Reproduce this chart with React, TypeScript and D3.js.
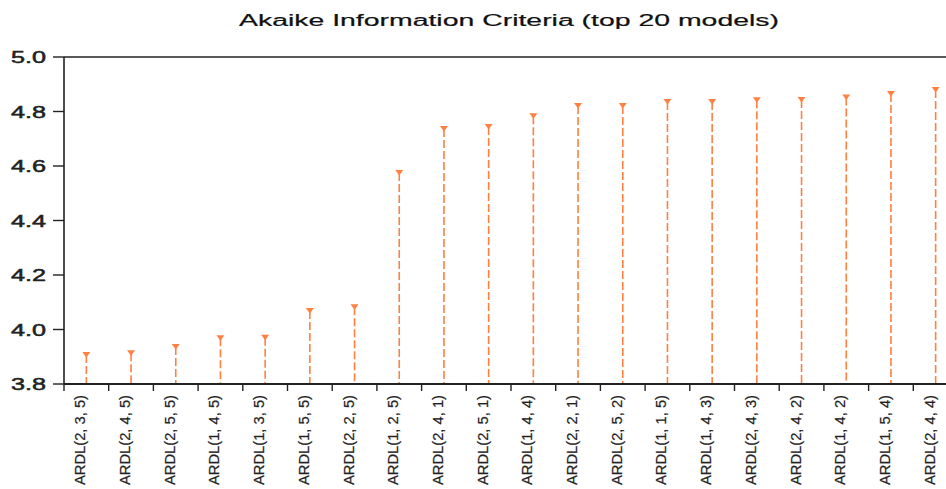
import React from "react";
import * as d3 from "d3";

const models = [
  "ARDL(2, 3, 5)", "ARDL(2, 4, 5)", "ARDL(2, 5, 5)", "ARDL(1, 4, 5)", "ARDL(1, 3, 5)",
  "ARDL(1, 5, 5)", "ARDL(2, 2, 5)", "ARDL(1, 2, 5)", "ARDL(2, 4, 1)", "ARDL(2, 5, 1)",
  "ARDL(1, 4, 4)", "ARDL(2, 2, 1)", "ARDL(2, 5, 2)", "ARDL(1, 1, 5)", "ARDL(1, 4, 3)",
  "ARDL(2, 4, 3)", "ARDL(2, 4, 2)", "ARDL(1, 4, 2)", "ARDL(1, 5, 4)", "ARDL(2, 4, 4)",
];
const aicValues = [
  3.906, 3.913, 3.936, 3.968, 3.97, 4.068, 4.082, 4.574, 4.736, 4.743,
  4.783, 4.82, 4.82, 4.835, 4.835, 4.841, 4.842, 4.851, 4.864, 4.879,
];
const yTicks = [3.8, 4.0, 4.2, 4.4, 4.6, 4.8, 5.0];

const W = 946;
const H = 489;
const left = 64;
const right = 958;
const top = 57;
const bottom = 384;
const orange = "#ff8040";

export default function App() {
  const x = d3.scaleBand<string>().domain(models).range([left, right]).padding(0);
  const y = d3.scaleLinear().domain([3.8, 5.0]).range([bottom, top]);
  const bw = x.bandwidth();
  const tickXs = models.map((m) => x(m)!).concat([right]);

  return (
    <svg
      width={W}
      height={H}
      style={{ position: "absolute", left: 0, top: 0, background: "#fff" }}
      fontFamily="'Liberation Sans', Arial, sans-serif"
    >
      <text
        x={509}
        y={26}
        textAnchor="middle"
        fontSize={16}
        textLength={540}
        lengthAdjust="spacingAndGlyphs"
        fill="#111"
        stroke="#111"
        strokeWidth={0.2}
      >
        Akaike Information Criteria (top 20 models)
      </text>

      {/* stems and markers */}
      {models.map((m, i) => {
        const cx = x(m)! + bw / 2;
        const cy = y(aicValues[i]);
        return (
          <g key={m}>
            <line
              x1={cx}
              x2={cx}
              y1={cy}
              y2={bottom}
              stroke={orange}
              strokeWidth={1.6}
              strokeDasharray="8,3"
            />
            <path
              d={`M${cx - 4},${cy - 3} L${cx + 4},${cy - 3} L${cx},${cy + 2.5} Z`}
              fill={orange}
            />
          </g>
        );
      })}

      {/* frame */}
      <line x1={left} x2={W} y1={top} y2={top} stroke="#222" strokeWidth={1.6} />
      <line x1={left} x2={left} y1={top} y2={bottom} stroke="#222" strokeWidth={1.6} />
      <line x1={left} x2={W} y1={bottom} y2={bottom} stroke="#222" strokeWidth={1.8} />

      {/* y axis */}
      {yTicks.map((t) => (
        <g key={t}>
          <line x1={left - 11} x2={left} y1={y(t)} y2={y(t)} stroke="#222" strokeWidth={1.4} />
          <text
            x={46}
            y={y(t) + 6}
            textAnchor="end"
            fontSize={16}
            textLength={35}
            lengthAdjust="spacingAndGlyphs"
            fill="#222"
            stroke="#222"
            strokeWidth={0.5}
          >
            {t.toFixed(1)}
          </text>
        </g>
      ))}

      {/* x axis */}
      {tickXs.map((tx, i) => (
        <line key={i} x1={tx} x2={tx} y1={bottom} y2={bottom + 7} stroke="#222" strokeWidth={1.4} />
      ))}
      {models.map((m) => {
        const cx = x(m)! + bw / 2;
        return (
          <text
            key={m}
            transform={`translate(${cx - 1},395) rotate(-90)`}
            textAnchor="end"
            fontSize={14}
            textLength={90}
            lengthAdjust="spacingAndGlyphs"
            fill="#222"
            stroke="#222"
            strokeWidth={0.2}
          >
            {m}
          </text>
        );
      })}
    </svg>
  );
}
